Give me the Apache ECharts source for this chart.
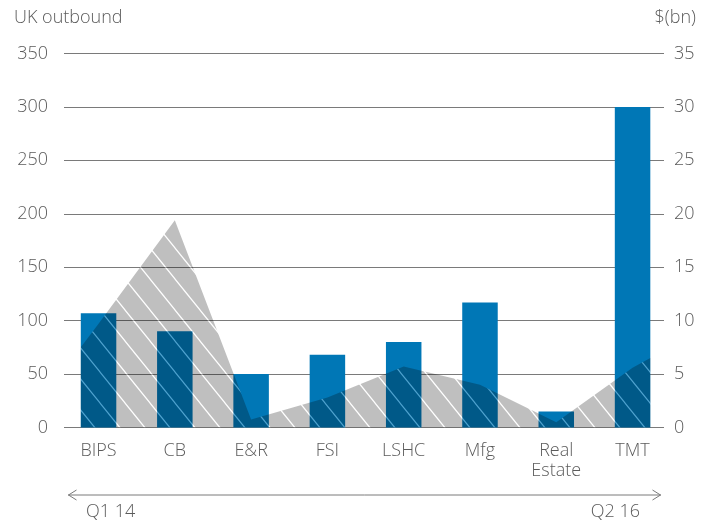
<!DOCTYPE html>
<html>
<head>
<meta charset="utf-8">
<script src="https://cdn.jsdelivr.net/npm/echarts@6/dist/echarts.min.js"></script>
<style>
  html, body { margin: 0; padding: 0; background: #ffffff; }
  #chart { width: 716px; height: 521px; }
</style>
</head>
<body>
<div id="chart"></div>
<script>
// Sectors on the category axis
const sectors = ['BIPS', 'CB', 'E&R', 'FSI', 'LSHC', 'Mfg', 'Real\nEstate', 'TMT'];
// UK outbound deal counts (left axis)
const outboundDeals = [107, 90, 50, 68, 80, 117, 15, 300];
// Deal value in $bn at each sector (right axis)
const dealValueBn = [9.7, 19.4, 0.75, 2.8, 5.7, 4.0, 0.5, 5.6];
// Deal value at the outer edges of the first and last bars
const dealValueEdgesBn = [7.5, 6.5];
// Axis ticks
const leftTicks = { min: 0, max: 350, interval: 50 };
const rightTicks = { min: 0, max: 35, interval: 5 };
// Period covered
const periodStart = 'Q1 14';
const periodEnd = 'Q2 16';

const FONT = '"Open Sans", "Noto Sans", sans-serif';
const TEXT = '#5b5b5b';
const BAR_BLUE = '#0077b6';

// layout of the plotting band for bars and area
const dataLeft = 60.4, dataWidth = 610.3;
const barWidthPx = 35.5;
const bandPx = dataWidth / sectors.length;
const halfBar = (barWidthPx / 2) / bandPx;

// Translucent dark overlay with light diagonal hatching
function hatchPattern() {
  const w = 25, h = 31;
  const c = document.createElement('canvas');
  c.width = w; c.height = h;
  const ctx = c.getContext('2d');
  ctx.fillStyle = 'rgba(0,0,0,0.25)';
  ctx.fillRect(0, 0, w, h);
  const drawLines = () => {
    for (let k = -1; k <= 1; k++) {
      ctx.beginPath();
      ctx.moveTo(k * w - w, -h);
      ctx.lineTo(k * w + 2 * w, 2 * h);
      ctx.stroke();
    }
  };
  ctx.lineWidth = 1.1;
  ctx.globalCompositeOperation = 'destination-out';
  ctx.strokeStyle = 'rgba(0,0,0,1)';
  drawLines();
  ctx.globalCompositeOperation = 'source-over';
  ctx.strokeStyle = 'rgba(255,255,255,0.32)';
  drawLines();
  return c;
}

// area points: outer edge, sector centres, outer edge
const areaPoints = [[-halfBar, dealValueEdgesBn[0]]]
  .concat(dealValueBn.map((v, i) => [i, v]))
  .concat([[sectors.length - 1 + halfBar, dealValueEdgesBn[1]]]);

const chart = echarts.init(document.getElementById('chart'), null, { renderer: 'canvas' });

const axisText = { color: TEXT, fontSize: 18, fontFamily: FONT, fontWeight: 300 };

chart.setOption({
  backgroundColor: '#ffffff',
  animation: false,
  grid: [
    { left: 64, right: 52, top: 53.5, bottom: 93.5 },
    { left: dataLeft, width: dataWidth, top: 53.5, bottom: 93.5 }
  ],
  xAxis: [
    { gridIndex: 0, type: 'value', min: 0, max: 1, show: false },
    {
      gridIndex: 1, type: 'category', data: sectors,
      axisLine: { show: false }, axisTick: { show: false },
      axisLabel: Object.assign({ margin: 13, lineHeight: 20, interval: 0 }, axisText)
    },
    { gridIndex: 1, type: 'value', min: -0.5, max: sectors.length - 0.5, show: false }
  ],
  yAxis: [
    {
      gridIndex: 0, type: 'value', position: 'left',
      min: leftTicks.min, max: leftTicks.max, interval: leftTicks.interval,
      axisLine: { show: false }, axisTick: { show: false },
      axisLabel: Object.assign({ margin: 16 }, axisText),
      splitLine: { show: true, lineStyle: { color: '#7a7a7a', width: 1 } }
    },
    {
      gridIndex: 0, type: 'value', position: 'right',
      min: rightTicks.min, max: rightTicks.max, interval: rightTicks.interval,
      axisLine: { show: false }, axisTick: { show: false },
      axisLabel: Object.assign({ margin: 10 }, axisText),
      splitLine: { show: false }
    },
    { gridIndex: 1, type: 'value', min: leftTicks.min, max: leftTicks.max, show: false },
    { gridIndex: 1, type: 'value', min: rightTicks.min, max: rightTicks.max, show: false }
  ],
  series: [
    {
      name: 'UK outbound',
      type: 'bar',
      xAxisIndex: 1, yAxisIndex: 2,
      data: outboundDeals,
      barWidth: barWidthPx,
      itemStyle: { color: BAR_BLUE },
      z: 2,
      silent: true
    },
    {
      name: '$(bn)',
      type: 'line',
      xAxisIndex: 2, yAxisIndex: 3,
      data: areaPoints,
      smooth: false,
      showSymbol: false,
      symbol: 'none',
      lineStyle: { width: 0, opacity: 0 },
      areaStyle: { color: { image: hatchPattern(), repeat: 'repeat' }, opacity: 1 },
      z: 3,
      silent: true
    }
  ],
  graphic: [
    { type: 'text', left: 14, top: 9, style: { text: 'UK outbound', fill: TEXT, fontSize: 18, fontFamily: FONT, fontWeight: 300 } },
    { type: 'text', right: 20, top: 9, style: { text: '$(bn)', fill: TEXT, fontSize: 18, fontFamily: FONT, fontWeight: 300 } },
    { type: 'line', shape: { x1: 68, y1: 495, x2: 661, y2: 495 }, style: { stroke: '#7a7a7a', lineWidth: 1 } },
    { type: 'polyline', shape: { points: [[76.5, 490], [68.5, 495], [76.5, 500]] }, style: { stroke: '#7a7a7a', lineWidth: 1, fill: null } },
    { type: 'polyline', shape: { points: [[652.5, 490], [660.5, 495], [652.5, 500]] }, style: { stroke: '#7a7a7a', lineWidth: 1, fill: null } },
    { type: 'text', left: 86, top: 503, style: { text: periodStart, fill: TEXT, fontSize: 18, fontFamily: FONT, fontWeight: 300 } },
    { type: 'text', right: 76, top: 503, style: { text: periodEnd, fill: TEXT, fontSize: 18, fontFamily: FONT, fontWeight: 300 } }
  ]
});
</script>
</body>
</html>
